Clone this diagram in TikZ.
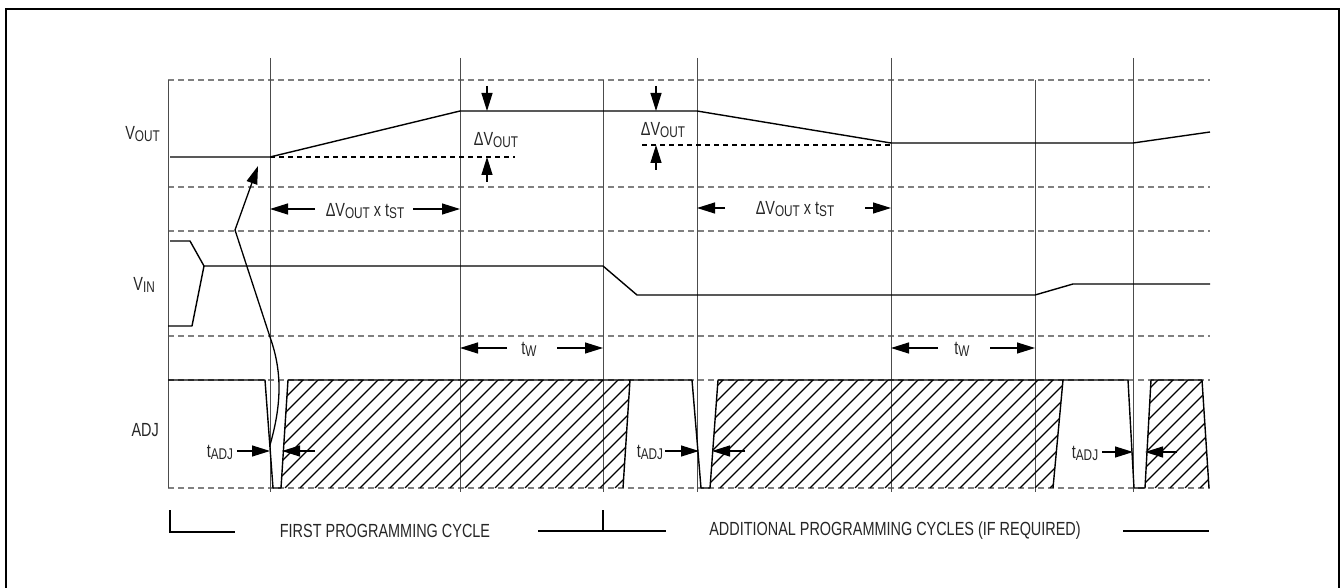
\documentclass[tikz,border=0pt]{standalone}
\usepackage{fontspec}
\setmainfont[FakeStretch=0.76]{Liberation Sans}
\usetikzlibrary{arrows.meta}
\newcommand{\sbs}[1]{\raisebox{-2pt}{\fontsize{15.5}{16}\selectfont #1}}
\begin{document}
\begin{tikzpicture}[x=1pt,y=-1pt,
  gridline/.style={draw=black!50, line width=1.1pt, dash pattern=on 6pt off 4pt},
  vline/.style={draw=black!70, line width=0.9pt},
  wave/.style={draw=black, line width=1.4pt, line join=round},
  refline/.style={draw=black, line width=1.1pt, dash pattern=on 5pt off 4pt},
  dimarrow/.style={-{Triangle[length=18pt,width=11pt]}, line width=1.2pt},
  hatch/.style={draw=black, line width=1.1pt},
  lbl/.style={font=\fontsize{19}{22}\selectfont, inner sep=0pt, text=black!85}]
\useasboundingbox (0,0) rectangle (1341,588);
% outer frame
\draw[line width=2pt] (6,9) rectangle (1339,600);

% dashed grid
\foreach \y in {80,187,231,336,380,488}
  \draw[gridline] (168,\y) -- (1210,\y);

% vertical lines
\draw[vline] (168,80) -- (168,488);
\foreach \x in {270,460,697,891,1133}
  \draw[vline] (\x,58) -- (\x,492);
\foreach \x in {603,1035}
  \draw[vline] (\x,80) -- (\x,492);

% signal labels
\node[lbl, anchor=east] (vout) at (160,134) {V\sbs{OUT}};
\node[lbl, anchor=east] (vin) at (155,285) {V\sbs{IN}};
\node[lbl, anchor=east] (adj) at (159,430) {ADJ};

% VOUT waveform
\draw[wave] (170,157) -- (270,157) -- (460,111) -- (697,111) -- (891,143) -- (1133,143) -- (1210,132);
\draw[refline] (270,157) -- (515,157);
\draw[refline] (642,145) -- (891,145);

% Delta VOUT markers
\coordinate (d1a) at (487,86); \coordinate (d1b) at (487,111);
\coordinate (d1c) at (487,182); \coordinate (d1d) at (487,157);
\draw[dimarrow] (d1a) -- (d1b);
\draw[dimarrow] (d1c) -- (d1d);
\node[lbl] (dv1) at (496,140) {ΔV\sbs{OUT}};
\coordinate (d2a) at (656,86); \coordinate (d2b) at (656,111);
\coordinate (d2c) at (656,170); \coordinate (d2d) at (656,145);
\draw[dimarrow] (d2a) -- (d2b);
\draw[dimarrow] (d2c) -- (d2d);
\node[lbl] (dv2) at (663,130) {ΔV\sbs{OUT}};

% Delta VOUT x tST
\node[lbl] (st1) at (365,211) {ΔV\sbs{OUT} x t\sbs{ST}};
\coordinate (s1a) at (315,209); \coordinate (s1b) at (270,209);
\coordinate (s1c) at (413,209); \coordinate (s1d) at (460,209);
\draw[dimarrow] (s1a) -- (s1b);
\draw[dimarrow] (s1c) -- (s1d);
\node[lbl] (st2) at (795,209) {ΔV\sbs{OUT} x t\sbs{ST}};
\coordinate (s2a) at (725,208); \coordinate (s2b) at (697,208);
\coordinate (s2c) at (865,208); \coordinate (s2d) at (891,208);
\draw[dimarrow] (s2a) -- (s2b);
\draw[dimarrow] (s2c) -- (s2d);

% VIN waveform
\draw[wave] (170,241) -- (190,241) -- (204,266);
\draw[wave] (168,326) -- (192,326) -- (204,266) -- (603,266) -- (637,295) -- (1035,295) -- (1073,284) -- (1210,284);

% tW
\node[lbl] (tw1) at (529,349) {t\sbs{W}};
\coordinate (w1a) at (507,348); \coordinate (w1b) at (460,348);
\coordinate (w1c) at (557,348); \coordinate (w1d) at (603,348);
\draw[dimarrow] (w1a) -- (w1b);
\draw[dimarrow] (w1c) -- (w1d);
\node[lbl] (tw2) at (962,349) {t\sbs{W}};
\coordinate (w2a) at (938,348); \coordinate (w2b) at (891,348);
\coordinate (w2c) at (990,348); \coordinate (w2d) at (1035,348);
\draw[dimarrow] (w2a) -- (w2b);
\draw[dimarrow] (w2c) -- (w2d);

% ADJ hatching
\begin{scope}
  \clip (281,488) -- (288,380) -- (630,380) -- (623,488) -- cycle;
  \foreach \x in {165,180,...,640} \draw[hatch] (\x,488) -- (\x+108,380);
\end{scope}
\begin{scope}
  \clip (710,488) -- (718,380) -- (1063,380) -- (1053,488) -- cycle;
  \foreach \x in {600,615,...,1080} \draw[hatch] (\x,488) -- (\x+108,380);
\end{scope}
\begin{scope}
  \clip (1145,488) -- (1151,380) -- (1202,380) -- (1209,488) -- cycle;
  \foreach \x in {1035,1050,...,1215} \draw[hatch] (\x,488) -- (\x+108,380);
\end{scope}

% ADJ outlines
\draw[wave] (168,380) -- (265,380) -- (273,488) -- (281,488) -- (288,380) -- (630,380) -- (623,488);
\draw[wave] (630,380) -- (692,380) -- (701,488) -- (710,488) -- (718,380) -- (1063,380) -- (1053,488);
\draw[wave] (1063,380) -- (1128,380) -- (1134,488) -- (1145,488) -- (1151,380) -- (1202,380) -- (1209,488);

% tADJ
\node[lbl] (ta1) at (220,452) {t\sbs{ADJ}};
\coordinate (a1a) at (237,451); \coordinate (a1b) at (270,451);
\coordinate (a1c) at (315,451); \coordinate (a1d) at (282,451);
\draw[dimarrow] (a1a) -- (a1b);
\draw[dimarrow] (a1c) -- (a1d);
\node[lbl] (ta2) at (650,452) {t\sbs{ADJ}};
\coordinate (a2a) at (665,451); \coordinate (a2b) at (699,451);
\coordinate (a2c) at (745,451); \coordinate (a2d) at (712,451);
\draw[dimarrow] (a2a) -- (a2b);
\draw[dimarrow] (a2c) -- (a2d);
\node[lbl] (ta3) at (1085,453) {t\sbs{ADJ}};
\coordinate (a3a) at (1102,452); \coordinate (a3b) at (1133,452);
\coordinate (a3c) at (1177,452); \coordinate (a3d) at (1145,452);
\draw[dimarrow] (a3a) -- (a3b);
\draw[dimarrow] (a3c) -- (a3d);

% curved arrow from ADJ edge to VOUT start
\coordinate (cstart) at (270,445);
\coordinate (cbend) at (270,337);
\coordinate (ckink) at (235,230);
\coordinate (ctip) at (258,166);
\draw[line width=1.3pt, -{Triangle[length=18pt,width=11pt]}]
  (cstart) .. controls (283,400) and (281,368) .. (cbend) -- (ckink) -- (ctip);

% programming cycle brackets
\draw[line width=1.2pt] (170,510) -- (170,532) -- (235,532);
\node[lbl] (fpc) at (385,531) {FIRST PROGRAMMING CYCLE};
\draw[line width=1.2pt] (538,531) -- (666,531);
\draw[line width=1.2pt] (603,510) -- (603,531);
\node[lbl] (apc) at (895,531) {ADDITIONAL PROGRAMMING CYCLES (IF REQUIRED)};
\draw[line width=1.2pt] (1123,531) -- (1209,531);
\end{tikzpicture}
\end{document}
